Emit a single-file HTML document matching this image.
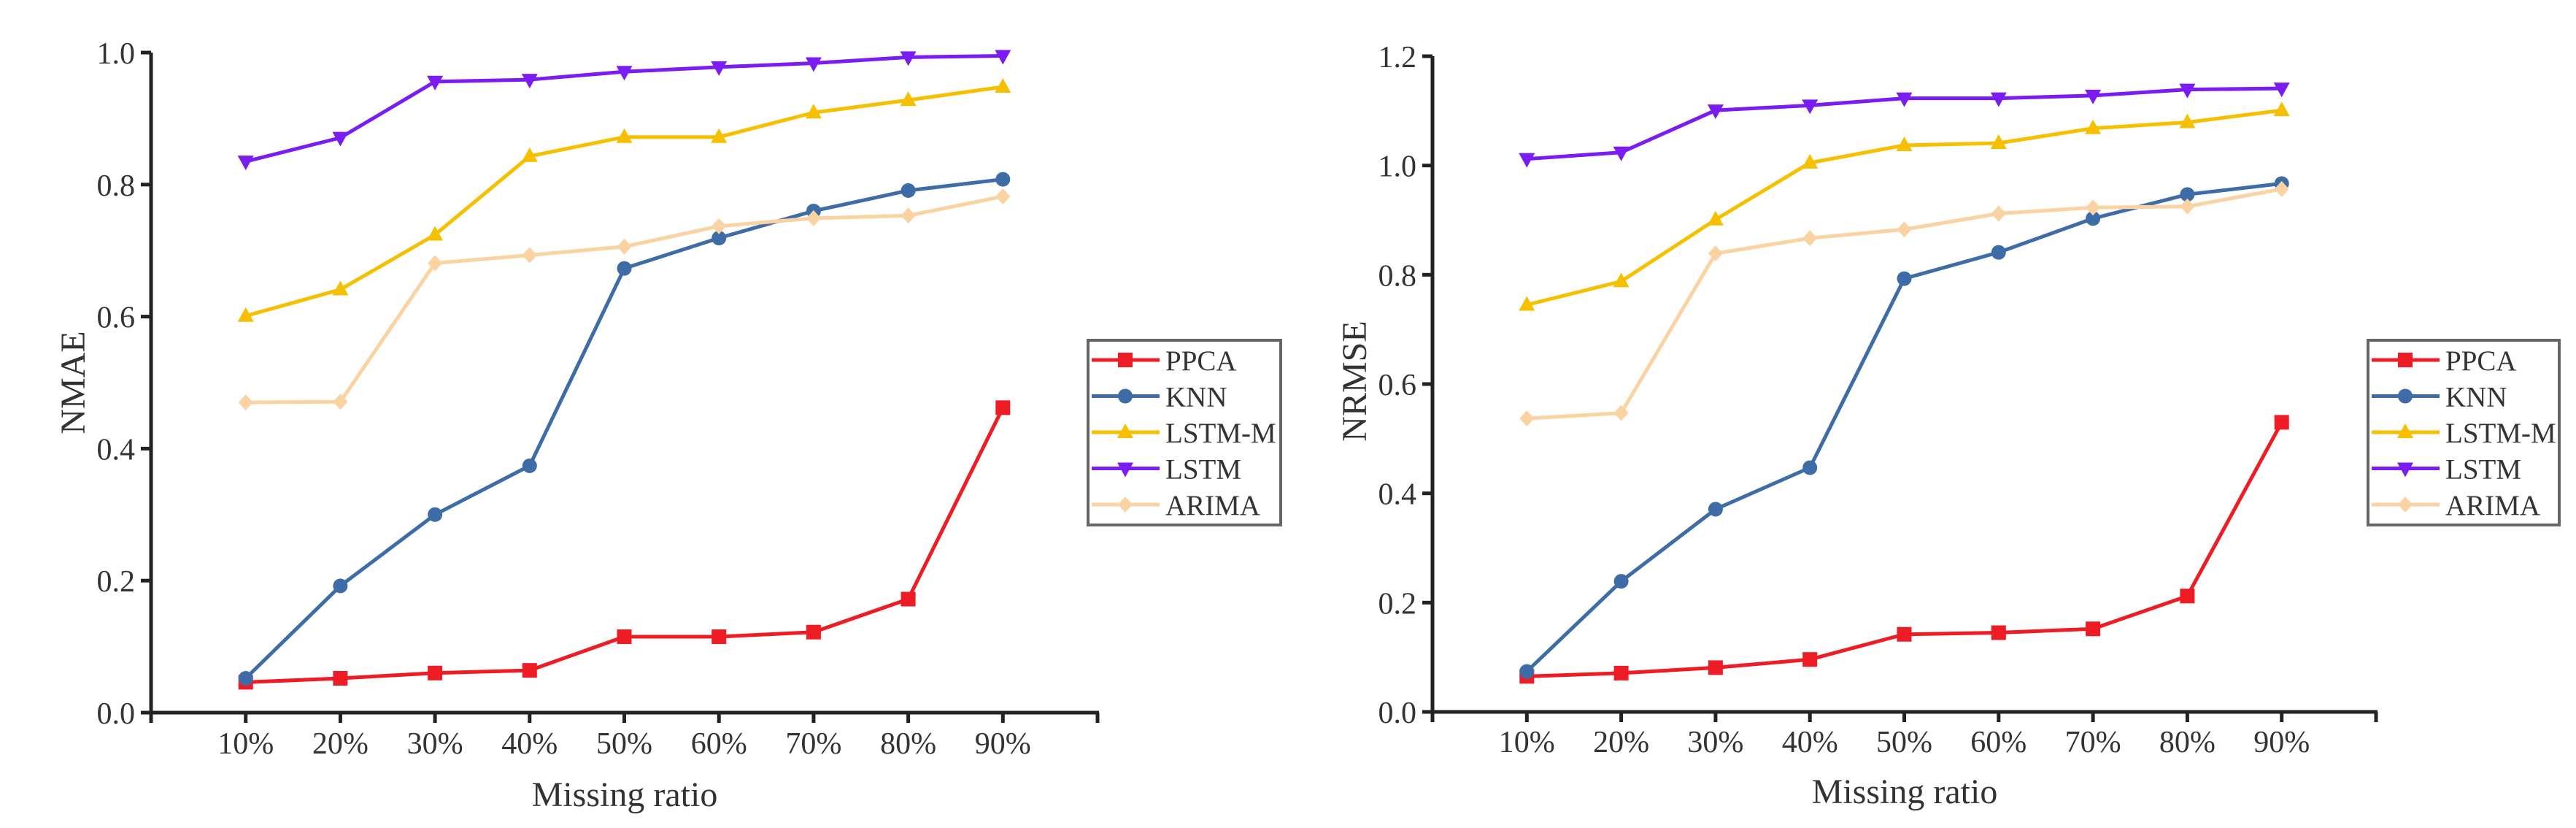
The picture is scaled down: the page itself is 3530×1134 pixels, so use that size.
<!DOCTYPE html>
<html><head><meta charset="utf-8"><style>
html,body{margin:0;padding:0;background:#fff;}
svg{display:block;font-family:"Liberation Serif",serif;}
</style></head><body>
<svg id="chart" width="3530" height="1134" viewBox="0 0 3530 1134" xmlns="http://www.w3.org/2000/svg"></svg>
<script>
const categories = ["10%","20%","30%","40%","50%","60%","70%","80%","90%"];
const seriesNames = ["PPCA","KNN","LSTM-M","LSTM","ARIMA"];
const nmaePPCA  = [0.046,0.052,0.060,0.064,0.115,0.115,0.122,0.172,0.462];
const nmaeKNN   = [0.052,0.192,0.300,0.374,0.673,0.719,0.760,0.791,0.808];
const nmaeLSTMM = [0.601,0.641,0.724,0.843,0.872,0.872,0.909,0.928,0.948];
const nmaeLSTM  = [0.835,0.871,0.956,0.959,0.971,0.978,0.984,0.993,0.995];
const nmaeARIMA = [0.470,0.471,0.681,0.693,0.706,0.737,0.749,0.753,0.782];
const nrmsePPCA  = [0.065,0.071,0.081,0.096,0.142,0.145,0.152,0.212,0.530];
const nrmseKNN   = [0.074,0.239,0.371,0.447,0.793,0.841,0.903,0.947,0.967];
const nrmseLSTMM = [0.745,0.788,0.901,1.005,1.037,1.041,1.068,1.079,1.101];
const nrmseLSTM  = [1.012,1.024,1.101,1.110,1.123,1.123,1.128,1.139,1.141];
const nrmseARIMA = [0.537,0.547,0.839,0.867,0.883,0.912,0.923,0.925,0.957];
const nmaeTicks  = ["0.0","0.2","0.4","0.6","0.8","1.0"];
const nrmseTicks = ["0.0","0.2","0.4","0.6","0.8","1.0","1.2"];

const colors = ["#ee1c25","#3d6ca6","#f6c000","#7b1cf2","#fbd3a2"];
const markers = ["square","circle","up","down","diamond"];
const NS="http://www.w3.org/2000/svg";
const svg=document.getElementById('chart');
function mk(tag,attrs,parent){const e=document.createElementNS(NS,tag);for(const k in attrs)e.setAttribute(k,attrs[k]);(parent||svg).appendChild(e);return e;}

function marker(g,type,x,y,c){
  const s=10;let e;
  if(type==="square") e=mk('rect',{x:x-s,y:y-s,width:2*s,height:2*s,fill:c},g);
  else if(type==="circle") e=mk('circle',{cx:x,cy:y,r:s,fill:c},g);
  else if(type==="up") e=mk('polygon',{points:`${x},${y-s-2} ${x+s+1},${y+s-2} ${x-s-1},${y+s-2}`,fill:c},g);
  else if(type==="down") e=mk('polygon',{points:`${x},${y+s+2} ${x+s+1},${y-s+2} ${x-s-1},${y-s+2}`,fill:c},g);
  else e=mk('polygon',{points:`${x},${y-s-1} ${x+s},${y} ${x},${y+s+1} ${x-s},${y}`,fill:c},g);
  
  
}

function drawChart(cfg){
  const g=mk('g',{});
  
  
  const x0=cfg.x0,x1=cfg.x1,yTop=cfg.yTop,yBot=cfg.yBot,ymax=cfg.ymax;
  const sx=i=>x0+(x1-x0)*(i+1)/10;
  const sy=v=>yBot-(yBot-yTop)*v/ymax;
  cfg.series.forEach((vals,si)=>{
    const sg=mk('g',{},g);
    
    
    const pts=vals.map((v,i)=>sx(i)+','+sy(v)).join(' ');
    const pl=mk('polyline',{points:pts,fill:'none',stroke:colors[si],'stroke-width':5,'stroke-linejoin':'round'},sg);
    
    
    vals.forEach((v,i)=>marker(sg,markers[si],sx(i),sy(v),colors[si]));
  });
  const ax=mk('g',{stroke:'#222','stroke-width':5,fill:'none'},g);
  
  
  mk('line',{x1:x0,y1:yTop,x2:x0,y2:yBot+14},ax);
  mk('line',{x1:x0-14,y1:yBot,x2:x1+2,y2:yBot},ax);
  mk('line',{x1:x1,y1:yBot,x2:x1,y2:yBot+14},ax);
  cfg.ticks.forEach((t,i)=>{
    const v=parseFloat(t),y=sy(v);
    mk('line',{x1:x0-14,y1:y,x2:x0,y2:y},ax);
    const tx=mk('text',{x:x0-22,y:y+15,'text-anchor':'end','font-size':42,fill:'#333',stroke:'none'},g);
    tx.textContent=t;
    
    
  });
  categories.forEach((c,i)=>{
    const x=sx(i);
    mk('line',{x1:x,y1:yBot,x2:x,y2:yBot+14},ax);
    const tx=mk('text',{x:x,y:cfg.xLabY,'text-anchor':'middle','font-size':42,fill:'#333'},g);
    tx.textContent=c;
    
    
  });
  const xt=mk('text',{x:cfg.xTitleX,y:cfg.xTitleY,'text-anchor':'middle','font-size':48,fill:'#333'},g);
  xt.textContent='Missing ratio';
  
  
  const yt=mk('text',{x:0,y:0,'text-anchor':'middle','font-size':48,fill:'#333',transform:`translate(${cfg.yTitleX},${cfg.yTitleY}) rotate(-90)`},g);
  yt.textContent=cfg.yTitle;
  
  
  const lg=mk('g',{},g);
  
  
  const lx=cfg.legX,ly=466,lw=cfg.legW,lh=253;
  mk('rect',{x:lx,y:ly,width:lw,height:lh,fill:'#fff',stroke:'#666','stroke-width':4},lg);
  seriesNames.forEach((n,si)=>{
    const ey=ly+27+si*49.5;
    const eg=mk('g',{},lg);
    
    
    mk('line',{x1:lx+5,y1:ey,x2:lx+98,y2:ey,stroke:colors[si],'stroke-width':5},eg);
    marker(eg,markers[si],lx+51,ey,colors[si]);
    const t=mk('text',{x:lx+106,y:ey+14,'font-size':39,fill:'#333'},eg);
    t.textContent=n;
  });
}

drawChart({name:'nmae-chart',x0:207,x1:1504,yTop:72,yBot:976,ymax:1.0,ticks:nmaeTicks,
  series:[nmaePPCA,nmaeKNN,nmaeLSTMM,nmaeLSTM,nmaeARIMA],
  xLabY:1032,xTitleX:856,xTitleY:1104,yTitle:'NMAE',yTitleX:116,yTitleY:524,legX:1491,legW:264});
drawChart({name:'nrmse-chart',x0:1963,x1:3256,yTop:77,yBot:975,ymax:1.2,ticks:nrmseTicks,
  series:[nrmsePPCA,nrmseKNN,nrmseLSTMM,nrmseLSTM,nrmseARIMA],
  xLabY:1030,xTitleX:2610,xTitleY:1100,yTitle:'NRMSE',yTitleX:1872,yTitleY:522,legX:3245,legW:262});
</script>
</body></html>
